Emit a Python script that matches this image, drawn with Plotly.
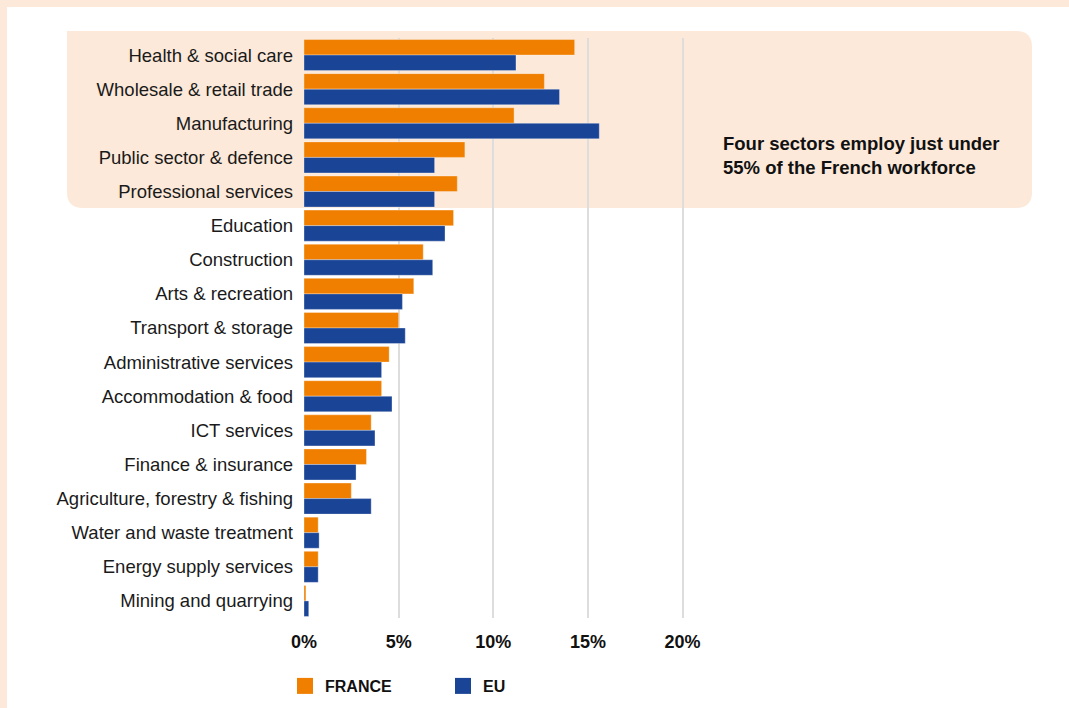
import plotly.graph_objects as go

sectors = ["Health & social care", "Wholesale & retail trade", "Manufacturing",
           "Public sector & defence", "Professional services", "Education",
           "Construction", "Arts & recreation", "Transport & storage",
           "Administrative services", "Accommodation & food", "ICT services",
           "Finance & insurance", "Agriculture, forestry & fishing",
           "Water and waste treatment", "Energy supply services", "Mining and quarrying"]
france = [14.3, 12.7, 11.1, 8.5, 8.1, 7.9, 6.3, 5.8, 5.0, 4.5, 4.1, 3.55, 3.3, 2.5, 0.75, 0.75, 0.1]
eu = [11.2, 13.5, 15.6, 6.9, 6.9, 7.45, 6.8, 5.2, 5.35, 4.1, 4.65, 3.75, 2.75, 3.55, 0.8, 0.75, 0.25]
tick_vals = [0, 5, 10, 15, 20]
tick_text = ["0%", "5%", "10%", "15%", "20%"]
note = "Four sectors employ just under<br>55% of the French workforce"

ORANGE = "#F07F00"
BLUE = "#1A4496"
PEACH = "#FCE9D9"

W, H = 1069, 708
L, R, T, B = 304, 692, 38, 618


def px(x):
    return (x - L) / (R - L)


def py(y):
    return (B - y) / (B - T)


fig = go.Figure()
fig.add_trace(go.Bar(y=sectors, x=france, orientation="h", name="FRANCE",
                     marker=dict(color=ORANGE, line=dict(color="rgba(255,255,255,0.4)", width=0.8)),
                     showlegend=False))
fig.add_trace(go.Bar(y=sectors, x=eu, orientation="h", name="EU",
                     marker=dict(color=BLUE, line=dict(color="rgba(255,255,255,0.4)", width=0.8)),
                     showlegend=False))
# legend-only entries
fig.add_trace(go.Scatter(x=[None], y=[None], mode="markers", name="FRANCE",
                         marker=dict(symbol="square", size=16, color=ORANGE)))
fig.add_trace(go.Scatter(x=[None], y=[None], mode="markers", name="EU",
                         marker=dict(symbol="square", size=16, color=BLUE)))

# rounded highlight box (top-left corner square)
x0, x1, y0, y1, r = 67, 1032, 31, 208, 16
path = (f"M {px(x0)},{py(y0)} L {px(x1 - r)},{py(y0)} "
        f"Q {px(x1)},{py(y0)} {px(x1)},{py(y0 + r)} "
        f"L {px(x1)},{py(y1 - r)} Q {px(x1)},{py(y1)} {px(x1 - r)},{py(y1)} "
        f"L {px(x0 + r)},{py(y1)} Q {px(x0)},{py(y1)} {px(x0)},{py(y1 - r)} Z")
shapes = [
    dict(type="path", path=path, xref="paper", yref="paper", fillcolor=PEACH,
         line=dict(width=0), layer="below"),
    dict(type="rect", xref="paper", yref="paper", x0=px(0), x1=px(W), y0=py(0), y1=py(7),
         fillcolor=PEACH, line=dict(width=0), layer="below"),
    dict(type="rect", xref="paper", yref="paper", x0=px(0), x1=px(7), y0=py(0), y1=py(H),
         fillcolor=PEACH, line=dict(width=0), layer="below"),
]

fig.update_layout(
    width=W, height=H,
    margin=dict(l=L, r=W - R, t=T, b=H - B),
    paper_bgcolor="white",
    plot_bgcolor="rgba(0,0,0,0)",
    barmode="group",
    bargap=0.09,
    bargroupgap=0.0,
    font=dict(family="Liberation Sans, Arial, sans-serif", color="#1a1a1a"),
    shapes=shapes,
    showlegend=True,
    legend=dict(orientation="h", xref="container", yref="container",
                x=285 / W, y=1 - 669 / H, xanchor="left", yanchor="top",
                entrywidth=113, entrywidthmode="pixels",
                font=dict(size=16, family="Liberation Sans, Arial, sans-serif", color="#111",
                          weight="bold"),
                bgcolor="rgba(0,0,0,0)", itemsizing="trace"),
    xaxis=dict(range=[0, 20.5], tickvals=tick_vals, ticktext=tick_text,
               showgrid=True, gridcolor="#dddddd", gridwidth=1.5,
               zeroline=False, showline=False, ticks="", ticklabelstandoff=11,
               tickfont=dict(size=18, color="#111", weight="bold")),
    yaxis=dict(categoryorder="array", categoryarray=sectors, range=[16.5, -0.5],
               showgrid=False, zeroline=False, showline=False, ticks="",
               ticklabelstandoff=10, tickfont=dict(size=18.5, color="#1a1a1a")),
    annotations=[dict(text=note, xref="paper", yref="paper", x=px(721), y=py(156),
                      xanchor="left", yanchor="middle", align="left", showarrow=False,
                      font=dict(size=18.5, color="#111", weight="bold"))],
)

fig.write_html("out.html")
